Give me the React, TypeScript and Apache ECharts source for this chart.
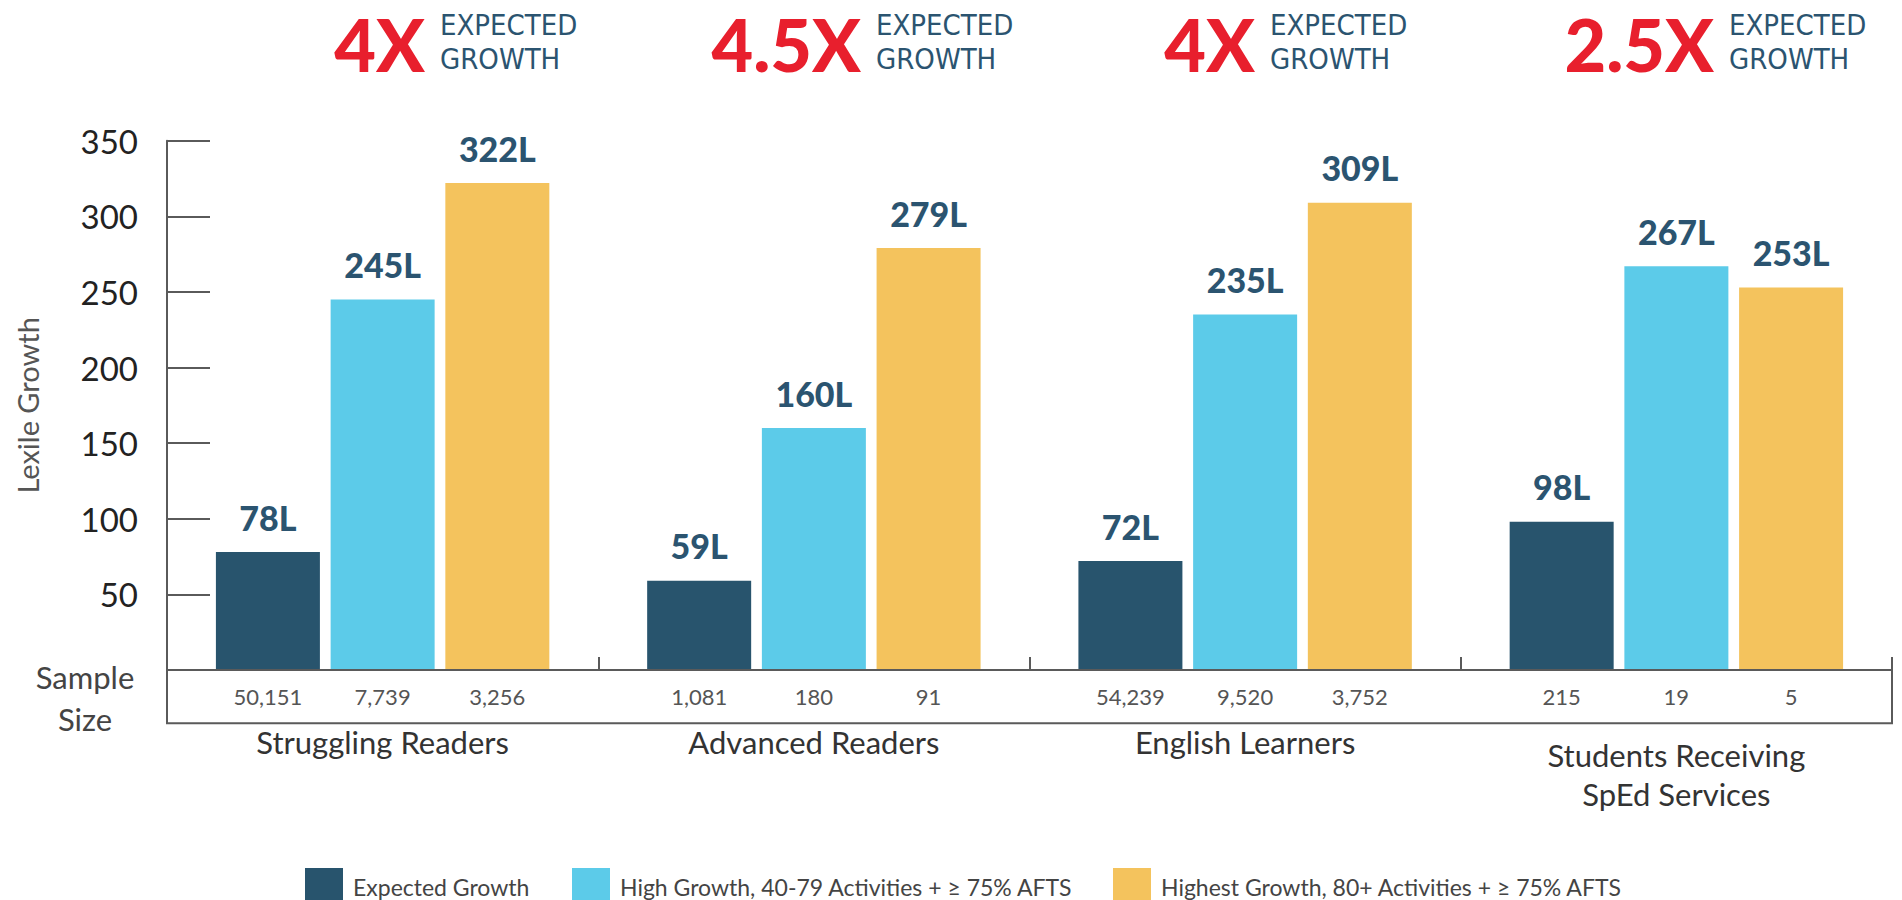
import React, { useEffect, useRef } from "react";
import * as echarts from "echarts";

const categories = [
  "Struggling Readers",
  "Advanced Readers",
  "English Learners",
  "Students Receiving\nSpEd Services",
];
const seriesNames = [
  "Expected Growth",
  "High Growth, 40-79 Activities + ≥ 75% AFTS",
  "Highest Growth, 80+ Activities + ≥ 75% AFTS",
];
const expectedGrowth = [78, 59, 72, 98];
const highGrowth = [245, 160, 235, 267];
const highestGrowth = [322, 279, 309, 253];
const sampleExpected = ["50,151", "1,081", "54,239", "215"];
const sampleHigh = ["7,739", "180", "9,520", "19"];
const sampleHighest = ["3,256", "91", "3,752", "5"];
const multipliers = ["4X", "4.5X", "4X", "2.5X"];
const yMin = 0;
const yMax = 350;
const yInterval = 50;

const COLORS = ["#28546D", "#5CCBE9", "#F4C35D"];
const NAVY = "#2B5470";
const RED = "#E81F2D";
const AXIS = "#5A5A5A";
const FONT = "Lato, 'Noto Sans', sans-serif";
const NARROW = "'Liberation Sans Narrow', 'DejaVu Sans Condensed', 'Noto Sans', sans-serif";

const headerAnchors = [432, 868, 1262, 1721];
const legendLefts = [300, 567, 1108];

export default function App() {
  const ref = useRef<HTMLDivElement>(null);

  useEffect(() => {
    if (!ref.current) return;
    const chart = echarts.init(ref.current, undefined, { renderer: "svg" });
    const values = [expectedGrowth, highGrowth, highestGrowth];
    const samples = [sampleExpected, sampleHigh, sampleHighest];
    const barWidth = 104;
    const barGap = "10.3%";

    const mainSeries = values.map((v, i) => ({
      name: seriesNames[i],
      type: "bar",
      xAxisIndex: 0,
      yAxisIndex: 0,
      data: v,
      barWidth,
      barGap,
      itemStyle: { color: COLORS[i] },
      label: {
        show: true,
        position: "top",
        distance: 18,
        formatter: "{c}L",
        fontFamily: FONT,
        fontSize: 34,
        fontWeight: 900,
        color: NAVY,
      },
      z: 3,
    }));

    const sampleSeries = samples.map((s, i) => ({
      name: "sample" + i,
      type: "bar",
      xAxisIndex: 1,
      yAxisIndex: 1,
      data: s.map(() => 1),
      barWidth,
      barGap,
      itemStyle: { color: "rgba(0,0,0,0)" },
      silent: true,
      label: {
        show: true,
        position: "inside",
        formatter: (p: any) => s[p.dataIndex],
        fontFamily: FONT,
        fontSize: 22,
        color: "#555",
      },
    }));

    const graphics: any[] = [];
    multipliers.forEach((m, i) => {
      graphics.push({
        type: "text",
        x: headerAnchors[i] - 7,
        y: 44,
        style: {
          text: m,
          fill: RED,
          font: `900 72px ${FONT}`,
          align: "right",
          verticalAlign: "middle",
        },
      });
      graphics.push({
        type: "text",
        x: headerAnchors[i] + 8,
        y: 42,
        style: {
          text: "EXPECTED\nGROWTH",
          fill: NAVY,
          font: `29px ${NARROW}`,
          lineHeight: 34,
          align: "left",
          verticalAlign: "middle",
        },
      });
    });
    graphics.push({
      type: "text",
      x: 85,
      y: 698,
      style: {
        text: "Sample\nSize",
        fill: "#444",
        font: `31px ${FONT}`,
        lineHeight: 42,
        align: "center",
        verticalAlign: "middle",
      },
    });

    const legends = seriesNames.map((n, i) => ({
      data: [n],
      left: legendLefts[i],
      top: 863,
      itemWidth: 38,
      itemHeight: 38,
      icon: "rect",
      textStyle: { fontSize: 23, color: "#444", fontFamily: FONT, padding: [0, 0, 0, 5] },
    }));

    chart.setOption({
      animation: false,
      textStyle: { fontFamily: FONT },
      grid: [
        { left: 167, right: 10, top: 140.7, bottom: 230 },
        {
          left: 167,
          right: 10,
          top: 670,
          height: 53.3,
          show: true,
          borderColor: AXIS,
          borderWidth: 2,
          backgroundColor: "rgba(0,0,0,0)",
        },
      ],
      legend: legends,
      xAxis: [
        {
          type: "category",
          gridIndex: 0,
          data: categories.map((c, i) =>
            i === 3 ? { value: c, textStyle: { padding: [13, 0, 0, 0] } } : c
          ),
          axisLine: { show: true, lineStyle: { color: AXIS, width: 2 } },
          axisTick: {
            show: true,
            inside: true,
            length: 13,
            interval: 0,
            lineStyle: { color: AXIS, width: 2 },
          },
          axisLabel: {
            interval: 0,
            margin: 52,
            fontSize: 31,
            lineHeight: 39,
            color: "#333",
            fontFamily: FONT,
          },
          z: 5,
        },
        {
          type: "category",
          gridIndex: 1,
          data: categories,
          show: false,
        },
      ],
      yAxis: [
        {
          type: "value",
          gridIndex: 0,
          min: yMin,
          max: yMax,
          interval: yInterval,
          name: "Lexile Growth",
          nameLocation: "middle",
          nameGap: 125,
          nameRotate: 90,
          nameTextStyle: { fontSize: 29, color: "#555", fontFamily: FONT },
          axisLine: { show: true, lineStyle: { color: AXIS, width: 2 } },
          axisTick: { show: true, inside: true, length: 43, lineStyle: { color: AXIS, width: 2 } },
          splitLine: { show: false },
          axisLabel: {
            showMinLabel: false,
            margin: 29,
            fontSize: 33,
            color: "#222",
            fontFamily: FONT,
          },
        },
        {
          type: "value",
          gridIndex: 1,
          min: 0,
          max: 1,
          show: false,
        },
      ],
      series: [...mainSeries, ...sampleSeries],
      graphic: graphics,
    });

    return () => chart.dispose();
  }, []);

  return (
    <div
      ref={ref}
      style={{ position: "absolute", left: 0, top: 0, width: 1902, height: 900, background: "#fff" }}
    />
  );
}
